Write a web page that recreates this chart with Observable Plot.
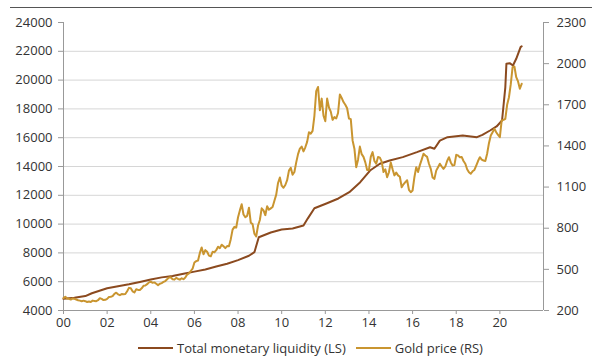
<!DOCTYPE html>
<html><head><meta charset="utf-8">
<script src="https://cdn.jsdelivr.net/npm/d3@7"></script>
<script src="https://cdn.jsdelivr.net/npm/@observablehq/plot@0.6"></script>
<style>
body{margin:0;background:#fff;font-family:"Open Sans",sans-serif;}
#wrap{position:relative;width:600px;height:358px;overflow:hidden;}
#rule{position:absolute;left:10px;top:7px;width:582px;height:1px;background:#555;}
#chart{position:absolute;left:0;top:0;}
#legend{position:absolute;top:339px;left:138px;height:18px;display:flex;align-items:center;font-size:13px;color:#333;white-space:nowrap;}
.sw{display:inline-block;width:35px;height:2px;margin-right:4px;}
.item{display:flex;align-items:center;margin-right:10px;}
</style></head>
<body><div id="wrap"><div id="chart"></div><div id="rule"></div>
<div id="legend"></div></div>
<script>
// Total monetary liquidity (left scale): [decimal year, value]
const liqYears = [2000.0,2000.5,2001.0,2001.3,2002.0,2002.5,2003.0,2003.5,2004.0,2004.5,2005.0,2005.5,2006.0,2006.5,2007.0,2007.5,2008.0,2008.5,2008.75,2008.95,2009.5,2010.0,2010.5,2011.0,2011.2,2011.5,2012.05,2012.6,2013.1,2013.6,2014.05,2014.5,2014.95,2015.55,2016.2,2016.8,2017.0,2017.25,2017.6,2018.3,2018.95,2019.2,2019.55,2019.85,2020.1,2020.25,2020.3,2020.45,2020.6,2020.75,2020.95,2021.0];
const liqValues = [4810,4880,5000,5200,5550,5680,5820,5980,6150,6300,6400,6550,6700,6850,7050,7250,7500,7800,8050,9090,9420,9630,9700,9900,10400,11100,11430,11780,12215,12910,13720,14190,14420,14650,14995,15340,15230,15800,16035,16150,16035,16200,16500,16780,17195,19500,21130,21175,21010,21480,22290,22350];

// Gold price (right scale), monthly from Jan 2000
const gold2000 = [290,300,288,285,280,288,285,280,275,272,268,272];
const gold2001 = [268,262,265,262,272,270,268,275,290,285,276,278];
const gold2002 = [285,298,300,305,322,330,318,312,320,318,320,340];
const gold2003 = [365,362,340,332,355,350,350,362,380,382,392,405];
const gold2004 = [410,402,405,395,385,395,400,408,415,428,440,442];
const gold2005 = [428,425,438,430,425,435,428,440,462,470,488,505];
const gold2006 = [550,560,565,620,660,610,640,628,600,595,628,625];
const gold2007 = [640,665,655,680,668,655,670,668,720,790,810,805];
const gold2008 = [880,930,975,900,880,890,950,840,830,760,740,820];
const gold2009 = [860,945,930,895,960,935,945,955,1000,1045,1130,1170];
const gold2010 = [1110,1095,1115,1150,1220,1240,1190,1210,1280,1340,1380,1395];
const gold2011 = [1360,1390,1430,1500,1490,1510,1620,1800,1830,1660,1745,1620];
const gold2012 = [1580,1745,1680,1650,1590,1610,1600,1640,1775,1750,1720,1700];
const gold2013 = [1675,1600,1595,1440,1380,1245,1300,1395,1340,1320,1280,1225];
const gold2014 = [1225,1320,1355,1290,1270,1320,1315,1285,1210,1230,1172,1208];
const gold2015 = [1280,1230,1185,1205,1185,1175,1099,1120,1136,1150,1080,1063];
const gold2016 = [1075,1172,1245,1210,1260,1300,1343,1330,1320,1270,1233,1170];
const gold2017 = [1160,1220,1245,1270,1250,1233,1250,1290,1318,1280,1257,1260];
const gold2018 = [1335,1330,1318,1320,1290,1270,1230,1208,1197,1215,1225,1257];
const gold2019 = [1290,1318,1300,1294,1290,1343,1420,1476,1500,1525,1500,1480];
const gold2020 = [1464,1586,1590,1598,1700,1755,1850,1974,1979,1901,1870,1817];
const gold2021 = [1853];

const xTicks = [2000,2002,2004,2006,2008,2010,2012,2014,2016,2018,2020];
const leftTicks = [4000,6000,8000,10000,12000,14000,16000,18000,20000,22000,24000];
const rightTicks = [200,500,800,1100,1400,1700,2000,2300];
const seriesNames = ["Total monetary liquidity (LS)","Gold price (RS)"];
const colors = ["#8b4a1f","#c99530"];

const goldAll = [].concat(gold2000,gold2001,gold2002,gold2003,gold2004,gold2005,gold2006,gold2007,gold2008,gold2009,gold2010,gold2011,gold2012,gold2013,gold2014,gold2015,gold2016,gold2017,gold2018,gold2019,gold2020,gold2021);
const toLeft = g => 4000 + (g - 200) * 20000 / 2100;
const fromLeft = v => 200 + (v - 4000) * 2100 / 20000;

const liq = liqYears.map((t,i)=>({t, v: liqValues[i]}));
const gold = goldAll.map((g,i)=>({t: 2000 + i/12, v: toLeft(g)}));

const plot = Plot.plot({
  width: 600, height: 333,
  marginLeft: 63, marginRight: 57, marginTop: 22, marginBottom: 23,
  style: {fontFamily: '"Open Sans", sans-serif', fontSize: "13px", color: "#333", background: "transparent"},
  x: {domain: [2000, 2022], label: null},
  y: {domain: [4000, 24000], label: null},
  marks: [
    Plot.ruleY(leftTicks.filter(d => d > 4000 && d < 24000), {stroke: "#d6d6d6", strokeWidth: 1}),
    Plot.axisY(leftTicks, {anchor: "left", tickSize: 5, tickPadding: 6, stroke: "#999", tickFormat: d => String(d), fill: "#333"}),
    Plot.axisY(rightTicks.map(toLeft), {anchor: "right", tickSize: 5, tickPadding: 8, stroke: "#999", tickFormat: d => String(Math.round(fromLeft(d))), fill: "#333"}),
    Plot.axisX(xTicks, {tickSize: 4, tickPadding: 3, stroke: "#999", fill: "#333", tickFormat: d => String(d % 100).padStart(2, "0")}),
    Plot.ruleX([2000], {stroke: "#999"}),
    Plot.ruleX([2022], {stroke: "#999"}),
    Plot.ruleY([4000], {stroke: "#999"}),
    Plot.line(liq, {x: "t", y: "v", stroke: colors[0], strokeWidth: 2}),
    Plot.line(gold, {x: "t", y: "v", stroke: colors[1], strokeWidth: 2})
  ]
});
document.getElementById("chart").appendChild(plot);

const lg = document.getElementById("legend");
seriesNames.forEach((n,i)=>{
  const it = document.createElement("span"); it.className = "item";
  const sw = document.createElement("span"); sw.className = "sw"; sw.style.background = colors[i];
  it.appendChild(sw); it.appendChild(document.createTextNode(n));
  lg.appendChild(it);
});
</script></body></html>
